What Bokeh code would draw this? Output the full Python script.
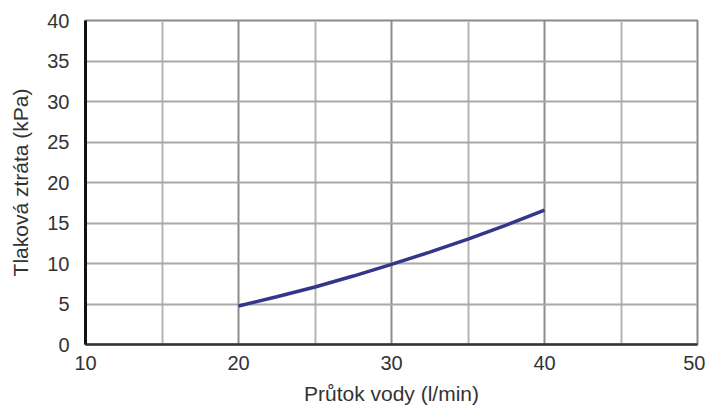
from bokeh.plotting import figure
from bokeh.models import FixedTicker, Range1d
from bokeh.embed import file_html
from bokeh.resources import INLINE

# Data
flow = [20, 22.5, 25, 27.5, 30, 32.5, 35, 37.5, 40]
pressure_drop = [4.75, 5.9, 7.1, 8.45, 9.9, 11.4, 13.0, 14.75, 16.6]

x_major = [10, 20, 30, 40, 50]
x_minor = [15, 25, 35, 45]
y_ticks = [0, 5, 10, 15, 20, 25, 30, 35, 40]

W, H = 705, 407
p = figure(width=W, height=H, output_backend="svg", toolbar_location=None,
           x_range=Range1d(10, 50), y_range=Range1d(0, 40),
           min_border_left=85, min_border_right=W - 697, min_border_top=20,
           min_border_bottom=H - 346)
p.background_fill_color = "white"
p.border_fill_color = "white"
p.outline_line_color = "#8a8a8a"
p.outline_line_width = 2

p.xaxis.ticker = FixedTicker(ticks=x_major, minor_ticks=x_minor)
p.yaxis.ticker = FixedTicker(ticks=y_ticks)

p.xgrid.grid_line_color = "#8c8c8c"
p.xgrid.grid_line_width = 2
p.xgrid.minor_grid_line_color = "#b4b4b4"
p.xgrid.minor_grid_line_width = 2
p.ygrid.grid_line_color = "#a8a8a8"
p.ygrid.grid_line_width = 2

for ax in (p.xaxis, p.yaxis):
    ax.major_tick_line_color = None
    ax.minor_tick_line_color = None
    ax.major_label_text_font = "Liberation Sans"
    ax.major_label_text_font_size = "20px"
    ax.major_label_text_color = "#333333"
    ax.axis_label_text_font = "Liberation Sans"
    ax.axis_label_text_font_size = "21px"
    ax.axis_label_text_font_style = "normal"
    ax.axis_label_text_color = "#333333"

p.yaxis.axis_line_color = "#111111"
p.yaxis.axis_line_width = 3
p.xaxis.axis_line_color = "#333333"
p.xaxis.axis_line_width = 2.5

p.xaxis.axis_label = "Průtok vody (l/min)"
p.yaxis.axis_label = "Tlaková ztráta (kPa)"
p.xaxis.major_label_standoff = 5
p.xaxis.axis_label_standoff = 9
p.yaxis.major_label_standoff = 10
p.yaxis.axis_label_standoff = 12

p.line(flow, pressure_drop, line_color="#33378a", line_width=3.5)

open("out.html", "w").write(file_html(p, INLINE))
